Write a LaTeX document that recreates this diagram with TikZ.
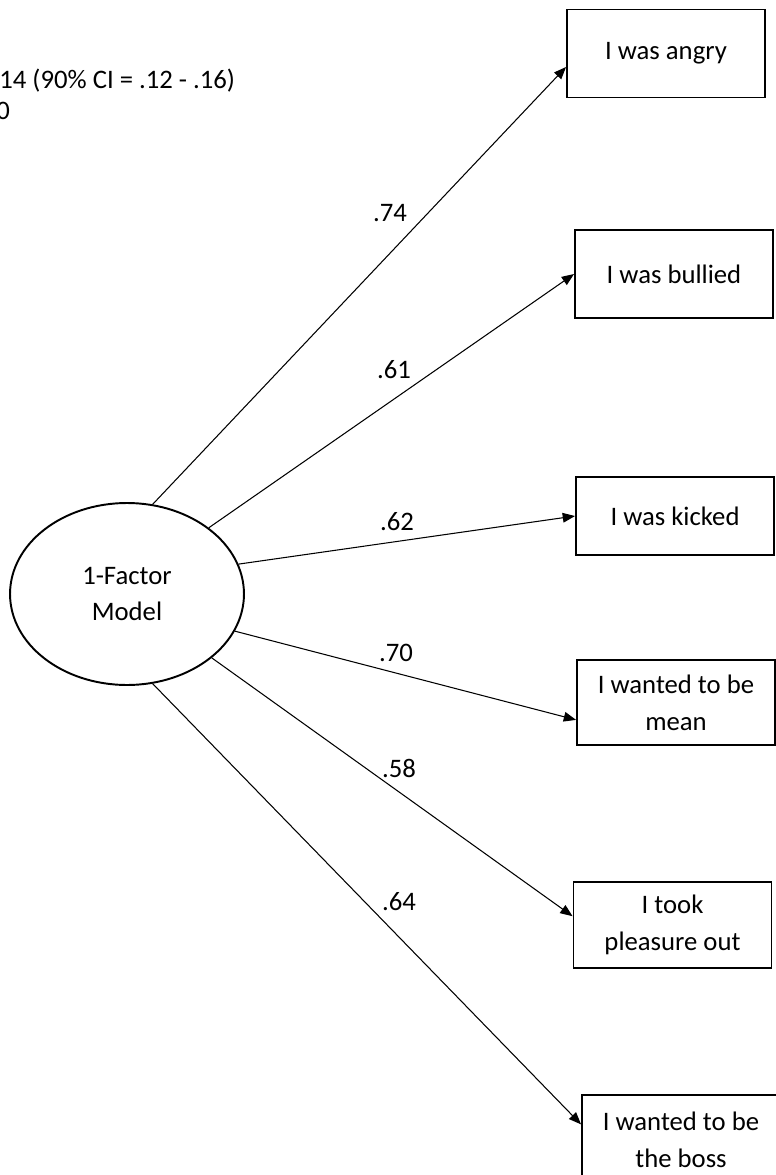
\documentclass[tikz,border=0pt]{standalone}
\usepackage{fontspec}
\setmainfont{Carlito}
\usepackage{tikz}
\usetikzlibrary{shapes.geometric, arrows.meta, positioning, calc}

\tikzset{
  item/.style={draw, line width=1.1pt, minimum width=3.96cm, minimum height=1.76cm, align=center, inner sep=2pt},
  loading/.style={draw, line width=0.6pt, -{Triangle[length=7pt, width=5.5pt]}},
  coef/.style={inner sep=0pt}
}

\begin{document}
\begin{tikzpicture}[x=0.02cm, y=-0.02cm, font=\fontsize{15.2}{21}\selectfont]
  \useasboundingbox (0,0) rectangle (775,1175);
  % Fit indices (cut at the left edge)
  \node[coef, anchor=west] (fit1) at (-1,81) {14 (90\% CI = .12 - .16)};
  \node[coef, anchor=west] (fit2) at (-4,111) {0};
  % Latent factor
  \node[ellipse, draw, line width=1.1pt, minimum width=4.68cm, minimum height=3.64cm, inner sep=0pt, align=center] (fac) at (127,594) {1-Factor\\Model};
  % Indicators
  \node[item] (angry) at (666,53.5) {I was angry};
  \node[item] (bullied) at (674,274) {I was bullied};
  \node[item, minimum height=1.56cm] (kicked) at (675,516) {I was kicked};
  \node[item, minimum height=1.7cm] (mean) at (676,702.5) {I wanted to be\\mean};
  \node[item, minimum height=1.72cm] (pleasure) at (672.5,925) {I took\\pleasure out};
  \node[item, minimum height=1.8cm] (boss) at (681,1140) {I wanted to be\\the boss};
  % Loadings
  \draw[loading] (fac.74) -- ($(angry.north west)!0.65!(angry.south west)$);
  \draw[loading] (fac.39) -- (bullied.west);
  \draw[loading] (fac.15) -- (kicked.west);
  \draw[loading] (fac.-19) -- ($(mean.north west)!0.7!(mean.south west)$);
  \draw[loading] (fac.-37) -- ($(pleasure.north west)!0.4!(pleasure.south west)$);
  \draw[loading] (fac.-74) -- ($(boss.north west)!0.33!(boss.south west)$);
  % Coefficients
  \node[coef] (l1) at (390,213) {.74};
  \node[coef] (l2) at (394,370) {.61};
  \node[coef] (l3) at (397,522) {.62};
  \node[coef] (l4) at (396,653) {.70};
  \node[coef] (l5) at (399,768) {.58};
  \node[coef] (l6) at (399,902) {.64};
\end{tikzpicture}
\end{document}
